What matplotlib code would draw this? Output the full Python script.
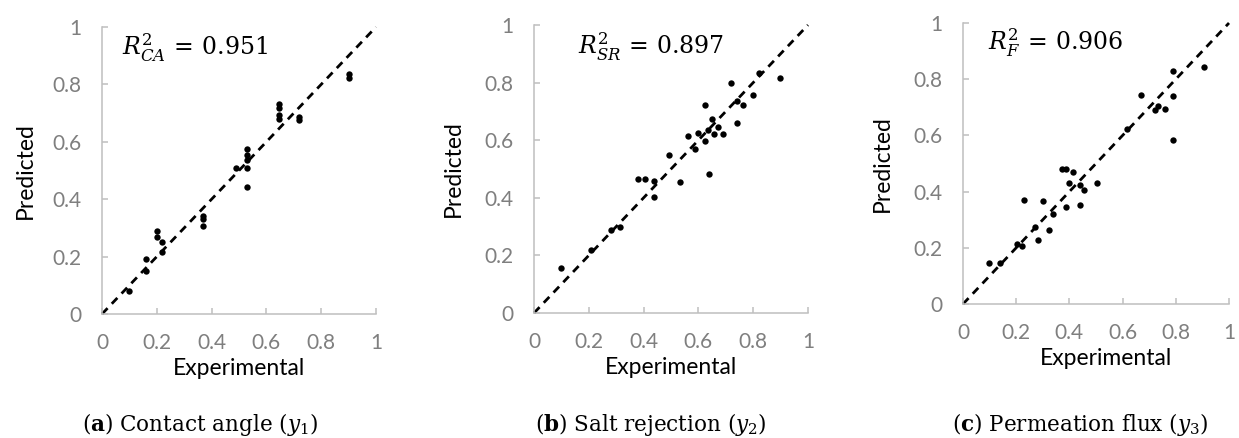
import matplotlib
matplotlib.use("Agg")
import matplotlib.pyplot as plt

# ---- data (experimental vs predicted, normalised) ----
ca_exp = [0.10, 0.16, 0.16, 0.20, 0.20, 0.22, 0.22, 0.37, 0.37, 0.37,
          0.49, 0.53, 0.53, 0.53, 0.53, 0.53, 0.645, 0.645, 0.645, 0.645,
          0.72, 0.72, 0.90, 0.90]
ca_pred = [0.08, 0.19, 0.15, 0.29, 0.27, 0.25, 0.216, 0.342, 0.33, 0.305,
           0.508, 0.574, 0.555, 0.535, 0.51, 0.444, 0.731, 0.717, 0.694, 0.68,
           0.688, 0.676, 0.836, 0.824]

sr_exp = [0.10, 0.207, 0.28, 0.313, 0.38, 0.404, 0.438, 0.438, 0.493, 0.534,
          0.562, 0.586, 0.60, 0.623, 0.623, 0.635, 0.637, 0.651, 0.656, 0.672,
          0.69, 0.72, 0.741, 0.741, 0.763, 0.80, 0.82, 0.899]
sr_pred = [0.155, 0.218, 0.287, 0.299, 0.465, 0.465, 0.458, 0.403, 0.548, 0.454,
           0.615, 0.57, 0.626, 0.723, 0.597, 0.637, 0.484, 0.673, 0.62, 0.645,
           0.62, 0.797, 0.736, 0.658, 0.722, 0.758, 0.833, 0.815]

fx_exp = [0.099, 0.14, 0.203, 0.22, 0.23, 0.271, 0.283, 0.30, 0.324, 0.34,
          0.371, 0.388, 0.388, 0.399, 0.415, 0.438, 0.438, 0.456, 0.503, 0.615,
          0.671, 0.721, 0.734, 0.759, 0.788, 0.788, 0.788, 0.905]
fx_pred = [0.146, 0.146, 0.213, 0.207, 0.37, 0.275, 0.226, 0.365, 0.262, 0.321,
           0.482, 0.482, 0.344, 0.432, 0.468, 0.422, 0.351, 0.405, 0.429, 0.621,
           0.745, 0.692, 0.704, 0.695, 0.829, 0.739, 0.583, 0.844]

r2_labels = [r"$R^2_{CA}\,=\,0.951$", r"$R^2_{SR}\,=\,0.897$", r"$R^2_{F}\,=\,0.906$"]
captions = [r"($\mathbf{a}$) Contact angle ($y_1$)",
            r"($\mathbf{b}$) Salt rejection ($y_2$)",
            r"($\mathbf{c}$) Permeation flux ($y_3$)"]
ticks = [0, 0.2, 0.4, 0.6, 0.8, 1]
tick_text = ["0", "0.2", "0.4", "0.6", "0.8", "1"]
diag = [0, 1]

# ---- layout (pixels in a 1239x438 canvas) ----
W, H = 1239, 438
AX_BOX = [(102, 314, 274, 287), (534, 313, 274, 288), (963, 304, 266, 281)]
R2_POS = [(0.073, 0.927), (0.16, 0.924), (0.094, 0.929)]
XLABEL_X = [0.5, 0.5, 0.538]
YLABEL_OFF = [66, 70, 70]
CAPTION_X = [200, 651, 1080]
CAPTION_Y = 424

SPINE = "#bfbfbf"
TICK_TEXT = "#7f7f7f"
SANS = "Lato"


def main() -> None:
    fig = plt.figure(figsize=(W / 100, H / 100), dpi=100, facecolor="white")

    series = [(ca_exp, ca_pred), (sr_exp, sr_pred), (fx_exp, fx_pred)]
    for i, (xs, ys) in enumerate(series):
        left, bottom, w, h = AX_BOX[i]
        ax = fig.add_axes([left / W, (H - bottom) / H, w / W, h / H])

        ax.plot(diag, diag, color="black", lw=2.0, ls=(0, (2.9, 2.2)),
                clip_on=False, zorder=2)
        ax.scatter(xs, ys, s=21, color="black", linewidths=0,
                   clip_on=False, zorder=3)

        ax.set_xlim(0, 1)
        ax.set_ylim(0, 1)
        ax.set_xticks(ticks, tick_text)
        ax.set_yticks(ticks, tick_text)
        for s in ("top", "right"):
            ax.spines[s].set_visible(False)
        for s in ("left", "bottom"):
            ax.spines[s].set_color(SPINE)
            ax.spines[s].set_linewidth(1.1)
        ax.tick_params(axis="both", direction="in", length=4.5, width=1.1,
                       color=SPINE, labelcolor=TICK_TEXT, labelsize=15)
        ax.tick_params(axis="x", pad=14)
        ax.tick_params(axis="y", pad=15)
        for lab in ax.get_xticklabels() + ax.get_yticklabels():
            lab.set_fontfamily(SANS)

        ax.set_xlabel("Experimental", fontsize=16.5, fontfamily=SANS, color="black")
        ax.set_ylabel("Predicted", fontsize=16.5, fontfamily=SANS, color="black")
        ax.xaxis.set_label_coords(XLABEL_X[i], -44 / h)
        ax.yaxis.set_label_coords(-YLABEL_OFF[i] / w, 0.5)

        ax.text(R2_POS[i][0], R2_POS[i][1], r2_labels[i], transform=ax.transAxes,
                fontsize=17, ha="left", va="center", math_fontfamily="dejavuserif")

        fig.text(CAPTION_X[i] / W, 1 - CAPTION_Y / H, captions[i],
                 fontsize=15.5, fontfamily="DejaVu Serif", ha="center", va="center",
                 math_fontfamily="dejavuserif")

    fig.savefig("out.png", dpi=100, facecolor="white")


if __name__ == "__main__":
    main()
